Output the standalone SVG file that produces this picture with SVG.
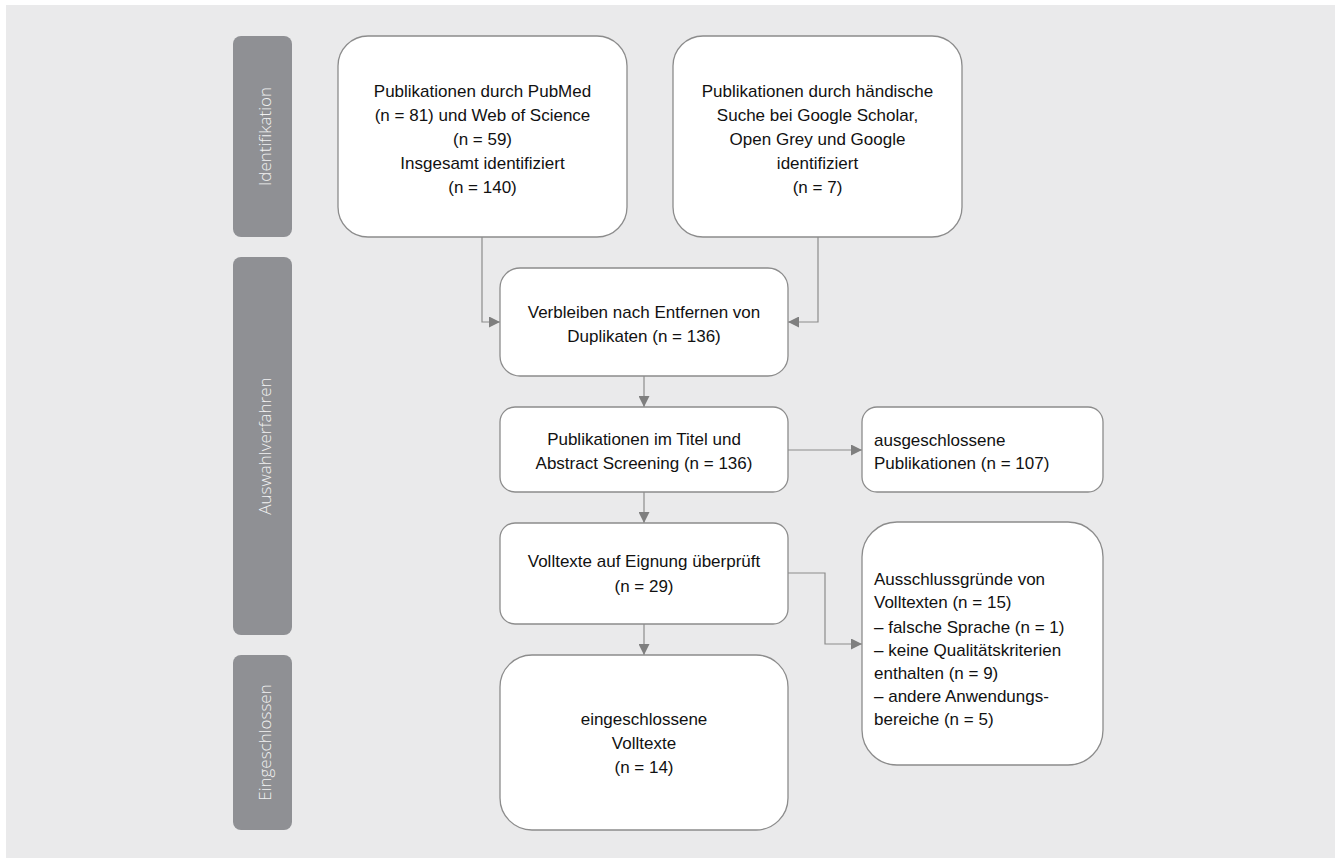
<svg xmlns="http://www.w3.org/2000/svg" width="1335" height="858" viewBox="0 0 1335 858">
  <style>
    .box { fill: #ffffff; stroke: #8c8c8c; stroke-width: 1.3; }
    .bar { fill: #8f9094; }
    .bar-label { font-family: "Open Sans", "Liberation Sans", sans-serif; font-weight: 300; font-size: 17px; fill: #f2f2f2; text-anchor: middle; }
    .t { font-family: "Liberation Sans", Arial, sans-serif; font-size: 17px; fill: #111111; }
    .c { text-anchor: middle; }
    .conn { fill: none; stroke: #8c8c8c; stroke-width: 1.2; }
  </style>
  <defs>
    <marker id="arrow" viewBox="0 0 10 10" refX="10" refY="5" markerWidth="12" markerHeight="11" markerUnits="userSpaceOnUse" orient="auto">
      <path d="M0,0 L10,5 L0,10 z" fill="#7f7f7f"/>
    </marker>
  </defs>

  <rect x="6" y="5" width="1329" height="853" fill="#eaeaeb"/>

  <g id="phase-identifikation">
    <rect class="bar" x="233" y="36" width="59" height="201" rx="8"/>
    <text class="bar-label" transform="translate(270.5,136.5) rotate(-90)">Identifikation</text>
  </g>
  <g id="phase-auswahlverfahren">
    <rect class="bar" x="233" y="257" width="59" height="378" rx="8"/>
    <text class="bar-label" transform="translate(270.5,446) rotate(-90)">Auswahlverfahren</text>
  </g>
  <g id="phase-eingeschlossen">
    <rect class="bar" x="233" y="655" width="59" height="175" rx="8"/>
    <text class="bar-label" transform="translate(270.5,742.5) rotate(-90)">Eingeschlossen</text>
  </g>

  <g id="connectors">
    <path class="conn" d="M482,237 V322 H500" marker-end="url(#arrow)"/>
    <path class="conn" d="M818,237 V322 H788" marker-end="url(#arrow)"/>
    <path class="conn" d="M644,376 V407" marker-end="url(#arrow)"/>
    <path class="conn" d="M644,492 V523" marker-end="url(#arrow)"/>
    <path class="conn" d="M644,624 V655" marker-end="url(#arrow)"/>
    <path class="conn" d="M788,450 H862" marker-end="url(#arrow)"/>
    <path class="conn" d="M788,573 H825 V644 H862" marker-end="url(#arrow)"/>
  </g>

  <g id="node-pubmed">
    <rect class="box" x="338" y="36" width="289" height="201" rx="30"/>
    <text class="t c" x="482.5" y="97">Publikationen durch PubMed</text>
    <text class="t c" x="482.5" y="121">(n = 81) und Web of Science</text>
    <text class="t c" x="482.5" y="145">(n = 59)</text>
    <text class="t c" x="482.5" y="169">Insgesamt identifiziert</text>
    <text class="t c" x="482.5" y="193">(n = 140)</text>
  </g>
  <g id="node-handsuche">
    <rect class="box" x="673" y="36" width="289" height="201" rx="30"/>
    <text class="t c" x="817.5" y="97">Publikationen durch händische</text>
    <text class="t c" x="817.5" y="121">Suche bei Google Scholar,</text>
    <text class="t c" x="817.5" y="145">Open Grey und Google</text>
    <text class="t c" x="817.5" y="169">identifiziert</text>
    <text class="t c" x="817.5" y="193">(n = 7)</text>
  </g>
  <g id="node-duplikate">
    <rect class="box" x="500" y="268" width="288" height="108" rx="20"/>
    <text class="t c" x="644" y="318">Verbleiben nach Entfernen von</text>
    <text class="t c" x="644" y="342">Duplikaten (n = 136)</text>
  </g>
  <g id="node-screening">
    <rect class="box" x="500" y="407" width="288" height="85" rx="15"/>
    <text class="t c" x="644" y="445">Publikationen im Titel und</text>
    <text class="t c" x="644" y="469">Abstract Screening (n = 136)</text>
  </g>
  <g id="node-volltexte">
    <rect class="box" x="500" y="523" width="288" height="101" rx="15"/>
    <text class="t c" x="644" y="567">Volltexte auf Eignung überprüft</text>
    <text class="t c" x="644" y="592">(n = 29)</text>
  </g>
  <g id="node-eingeschlossen">
    <rect class="box" x="500" y="655" width="288" height="175" rx="32"/>
    <text class="t c" x="644" y="725">eingeschlossene</text>
    <text class="t c" x="644" y="749">Volltexte</text>
    <text class="t c" x="644" y="773">(n = 14)</text>
  </g>
  <g id="node-ausgeschlossen">
    <rect class="box" x="862" y="407" width="241" height="85" rx="15"/>
    <text class="t" x="874" y="446">ausgeschlossene</text>
    <text class="t" x="874" y="469">Publikationen (n = 107)</text>
  </g>
  <g id="node-ausschlussgruende">
    <rect class="box" x="862" y="522" width="241" height="243" rx="35"/>
    <text class="t" x="874" y="585">Ausschlussgründe von</text>
    <text class="t" x="874" y="608">Volltexten (n = 15)</text>
    <text class="t" x="874" y="633">– falsche Sprache (n = 1)</text>
    <text class="t" x="874" y="656">– keine Qualitätskriterien</text>
    <text class="t" x="874" y="679">enthalten (n = 9)</text>
    <text class="t" x="874" y="702">– andere Anwendungs-</text>
    <text class="t" x="874" y="725">bereiche (n = 5)</text>
  </g>
</svg>
